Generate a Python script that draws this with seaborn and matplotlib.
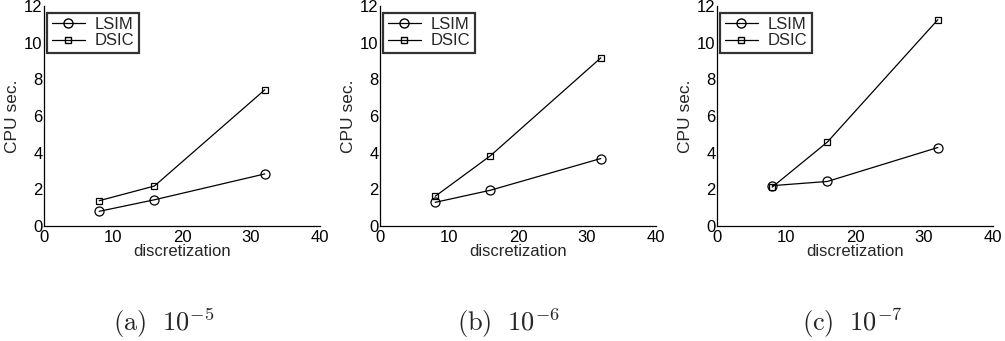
import matplotlib
matplotlib.use("Agg")
import matplotlib.pyplot as plt
import seaborn as sns
import pandas as pd
from matplotlib.lines import Line2D

discretization = [8, 16, 32]
lsim_a = [0.80, 1.43, 2.84]
dsic_a = [1.38, 2.18, 7.43]
lsim_b = [1.29, 1.95, 3.68]
dsic_b = [1.62, 3.83, 9.17]
lsim_c = [2.20, 2.43, 4.28]
dsic_c = [2.12, 4.58, 11.25]
captions = [r"$\mathrm{(a)}\ \ 10^{-5}$", r"$\mathrm{(b)}\ \ 10^{-6}$", r"$\mathrm{(c)}\ \ 10^{-7}$"]
x_ticks = [0, 10, 20, 30, 40]
y_ticks = [0, 2, 4, 6, 8, 10, 12]

sns.set_style("white")
plt.rcParams['font.family'] = ['Liberation Sans', 'DejaVu Sans']
plt.rcParams['mathtext.fontset'] = 'cm'
plt.rcParams['xtick.direction'] = 'in'
plt.rcParams['ytick.direction'] = 'in'

fig = plt.figure(figsize=(10.05, 3.41), dpi=100)
lefts = [44/1005, 380/1005, 717/1005]
bottom = 1 - 226/341
width = 276/1005
height = 220/341
cap_centers = [164/1005, 508/1005, 852/1005]

panels = [(lsim_a, dsic_a), (lsim_b, dsic_b), (lsim_c, dsic_c)]
for i, (ls, ds) in enumerate(panels):
    ax = fig.add_axes([lefts[i], bottom, width, height])
    df = pd.DataFrame({
        "discretization": discretization * 2,
        "cpu": ls + ds,
        "method": ["LSIM"] * 3 + ["DSIC"] * 3,
    })
    sns.lineplot(data=df, x="discretization", y="cpu", hue="method", style="method",
                 markers={"LSIM": "o", "DSIC": "s"}, dashes=False,
                 palette={"LSIM": "black", "DSIC": "black"}, ax=ax,
                 linewidth=0.9, markerfacecolor="none", markeredgecolor="black",
                 markeredgewidth=0.9, legend=False)
    ax.lines[0].set_markersize(6.5)
    ax.lines[1].set_markersize(5)
    ax.set_xlim(0, 40)
    ax.set_ylim(0, 12)
    ax.set_xticks(x_ticks)
    ax.set_yticks(y_ticks)
    ax.tick_params(labelsize=12, length=3, width=0.8, colors="black")
    ax.tick_params(axis="x", pad=3)
    ax.tick_params(axis="y", pad=1)
    for s in ["top", "right"]:
        ax.spines[s].set_visible(False)
    for s in ["left", "bottom"]:
        ax.spines[s].set_color("black")
        ax.spines[s].set_linewidth(0.9)
    ax.set_xlabel("discretization", fontsize=12, labelpad=-1)
    ax.set_ylabel("CPU sec.", fontsize=12.5, labelpad=3)
    handles = [Line2D([], [], color="black", marker="o", markerfacecolor="none", markersize=6.5, linewidth=0.9),
               Line2D([], [], color="black", marker="s", markerfacecolor="none", markersize=4.5, linewidth=0.9)]
    leg = ax.legend(handles, ["LSIM", "DSIC"], loc="upper left", bbox_to_anchor=(0.0, 0.985),
                    fontsize=12, frameon=True, fancybox=False, handlelength=2.0,
                    borderpad=0.25, labelspacing=0.1, handletextpad=0.6, borderaxespad=0.2)
    leg.get_frame().set_edgecolor("black")
    leg.get_frame().set_linewidth(1.6)
    fig.text(cap_centers[i], 1 - 323/341, captions[i], ha="center", va="center", fontsize=19)

fig.savefig("out.png", dpi=100, facecolor="white")
